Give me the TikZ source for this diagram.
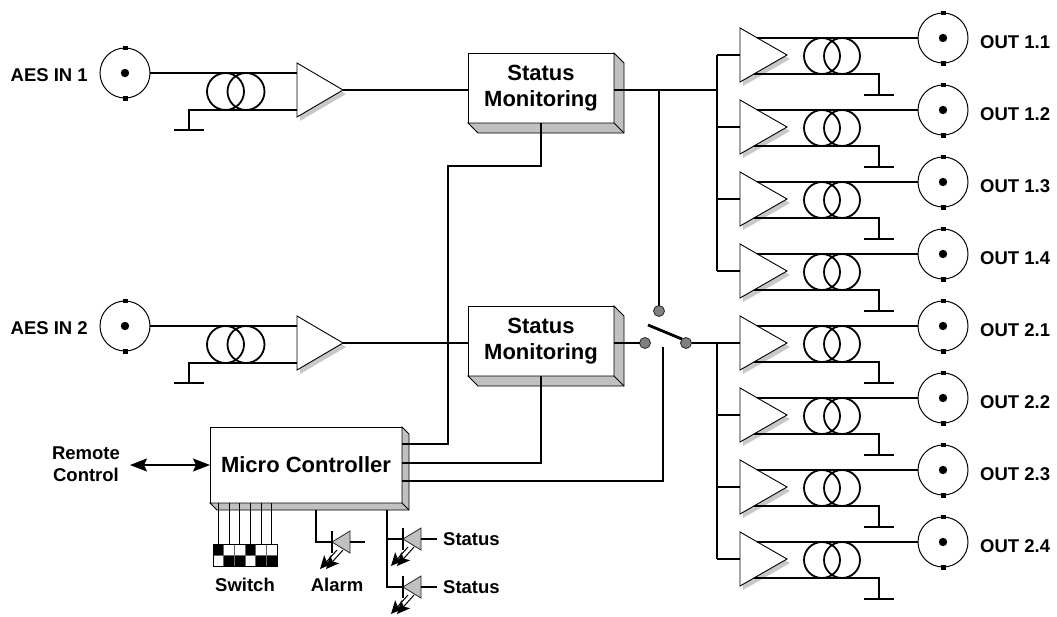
\documentclass[tikz,border=0pt]{standalone}
\usepackage{fontspec}
\setmainfont{Liberation Sans}
\usetikzlibrary{arrows.meta,calc}
\definecolor{shd}{HTML}{C0C0C0}
\definecolor{ashd}{HTML}{C8C8C8}
\definecolor{ballc}{HTML}{808080}
\newcommand{\mybnc}[3]{%
  \node[circle,draw,line width=1pt,minimum size=50pt,inner sep=0pt,outer sep=0pt] (#1) at (#2,#3) {};
  \fill (#2,#3) circle[radius=4.2pt];
  \fill (#2-2.5,#3-27.5) rectangle (#2+2.5,#3-23);
  \fill (#2-2.5,#3+23) rectangle (#2+2.5,#3+27.5);}
\newcommand{\myled}[3]{%
  \filldraw[fill=shd,draw=black!85,line width=0.8pt] (#2,#3) -- (#2+18,#3-11) -- (#2+18,#3+11) -- cycle;
  \draw[line width=1.2pt] (#2,#3-11) -- (#2,#3+11);
  \coordinate (#1-k) at (#2,#3);
  \coordinate (#1-a) at (#2+18,#3);
  \draw[line width=1pt,-{Stealth[length=13pt,width=12pt,inset=3pt]}] (#2+5,#3+8) -- (#2-12,#3+27);
  \draw[line width=1pt,-{Stealth[length=13pt,width=12pt,inset=3pt]}] (#2+11,#3+8) -- (#2-6,#3+27);}
\begin{document}
\begin{tikzpicture}[x=1pt,y=-1pt,
  wire/.style={line width=1.8pt},
  dipw/.style={line width=1pt},
  lbl/.style={font=\fontsize{18.5}{22}\selectfont\bfseries,inner sep=0pt,align=center},
  smbox/.style={font=\fontsize{22}{26}\selectfont\bfseries,align=center,draw,fill=white,line width=1pt,inner sep=0pt,outer sep=0pt,minimum width=146pt,minimum height=70pt},
  mcbox/.style={font=\fontsize{22}{26}\selectfont\bfseries,draw,fill=white,line width=1pt,inner sep=0pt,outer sep=0pt,minimum width=192pt,minimum height=76pt},
  ampshape/.style={draw,fill=white,line width=0.9pt},
  ballst/.style={circle,fill=ballc,draw=black!85,line width=0.8pt,minimum size=11pt,inner sep=0pt,outer sep=0pt}]
\useasboundingbox (0,0) rectangle (1057,616);

% ---------------- inputs ----------------
\foreach \i/\dy in {1/0,2/253}{
  \mybnc{in\i}{125}{73+\dy}
  \node[lbl,anchor=east] (lin\i) at (88,75.5+\dy) {AES IN \i};
  \draw[wire] (in\i.east) -- (297,73+\dy);
  \draw[wire] (189,130+\dy) -- (189,110+\dy) -- (297,110+\dy);
  \draw[wire] (174,130+\dy) -- (204,130+\dy);
  \draw[wire] (225.5,91.5+\dy) circle[radius=18.5pt];
  \draw[wire] (246,91.5+\dy) circle[radius=18.5pt];
  \fill[ashd] (300,67+\dy) -- (300,121+\dy) -- (346,94+\dy) -- cycle;
  \draw[ampshape] (297,63+\dy) -- (297,117+\dy) -- (343,90+\dy) coordinate (ia\i) -- cycle;
  \node[smbox] (sm\i) at (541,88+\dy) {Status\\Monitoring};
  \filldraw[fill=shd,line width=0.8pt] (sm\i.north east) -- ++(10,10) -- ++(0,70) -- ++(-146,0) -- (sm\i.south west) -- (sm\i.south east) -- cycle;
  \draw[line width=0.8pt] (sm\i.south east) -- ++(10,10);
  \draw[wire] (ia\i) -- (ia\i -| sm\i.west);
}

% ---------------- outputs ----------------
\coordinate (bx) at (717,0);
\foreach \k/\lab in {0/1.1,1/1.2,2/1.3,3/1.4,4/2.1,5/2.2,6/2.3,7/2.4}{
  \pgfmathsetmacro\c{38+72*\k}
  \mybnc{out\k}{943}{\c}
  \node[lbl,anchor=west] (ol\k) at (980,\c+4) {OUT \lab};
  \fill[ashd] (743,\c-6) -- (743,\c+48) -- (790,\c+21) -- cycle;
  \draw[ampshape] (740,\c-10) -- (740,\c+44) -- (787,\c+17) -- cycle;
  \coordinate (oa\k) at (740,\c+17);
  \draw[wire] (757.4,\c) -- (out\k.west);
  \draw[wire] (753.9,\c+36) -- (879,\c+36) -- (879,\c+57);
  \draw[wire] (864,\c+57) -- (894,\c+57);
  \draw[wire] (822,\c+18) circle[radius=18pt];
  \draw[wire] (842,\c+18) circle[radius=18pt];
  \draw[wire] (oa\k -| bx) -- (oa\k);
}
\draw[wire] (oa0 -| bx) -- (oa3 -| bx);
\draw[wire] (oa4 -| bx) -- (oa7 -| bx);
\draw[wire] (ia1 -| sm1.east) -- (ia1 -| bx);

% ---------------- switch ----------------
\node[ballst] (bT) at (659,311) {};
\node[ballst] (bL) at (645,343) {};
\node[ballst] (bR) at (686,343) {};
\draw[wire] (ia1 -| bT) -- (bT.north);
\draw[wire] (ia2 -| sm2.east) -- (bL.west);
\draw[wire] (bR.east) -- (oa4 -| bx);
\draw[line width=2.8pt] (648,325) -- (bR.north west);
\coordinate (swc) at (663,347);

% ---------------- micro controller ----------------
\node[mcbox] (mc) at (306,465) {Micro Controller};
\filldraw[fill=shd,line width=0.8pt] (mc.north east) -- ++(7,7) -- ++(0,76) -- ++(-192,0) -- (mc.south west) -- (mc.south east) -- cycle;
\draw[line width=0.8pt] (mc.south east) -- ++(7,7);
\draw[wire] ($(mc.north east)+(0,17)$) -- (448,444) -- (448,166) -| (sm1.south);
\draw[wire] ($(mc.north east)+(0,36)$) -| (sm2.south);
\draw[wire] ($(mc.north east)+(0,54)$) -| (swc);

% remote control
\node[lbl] (rc) at (86,464) {Remote\\Control};
\coordinate (rca) at (130,465);
\draw[wire,{Stealth[length=17pt,width=13pt,inset=3pt]}-{Stealth[length=17pt,width=13pt,inset=3pt]}] (rca) -- (mc.west);

% DIP switch
\node[draw,line width=0.8pt,fill=white,minimum width=64pt,minimum height=22pt,inner sep=0pt,outer sep=0pt] (dip) at (245,555) {};
\fill (213,544) rectangle ++(10.667,11);
\fill (245,544) rectangle ++(10.667,11);
\fill (223.667,555) rectangle ++(21.333,11);
\fill (255.667,555) rectangle ++(21.333,11);
\foreach \j in {1,...,5}{\draw[black!60,line width=0.5pt] (213+\j*10.667,544) -- ++(0,22);}
\draw[black!60,line width=0.5pt] (213,555) -- (277,555);
\draw[line width=0.8pt] (dip.north west) rectangle (dip.south east);
\foreach \j in {0,...,5}{\draw[dipw] (218.33+\j*10.667,503) -- ++(0,41);}
\node[lbl] (swl) at (245,585) {Switch};

% LEDs
\myled{alarm}{332}{542}
\draw[line width=1.2pt] (316,510) |- (alarm-k);
\draw[line width=1.2pt] (alarm-a) -- ++(15,0);
\node[lbl] (al) at (337,585) {Alarm};
\myled{st1}{403}{539}
\myled{st2}{403}{587}
\draw[line width=1.2pt] (387,510) |- (st2-k);
\draw[line width=1.2pt] (387,539) -- (st1-k);
\draw[line width=1.2pt] (st1-a) -- ++(16,0);
\draw[line width=1.2pt] (st2-a) -- ++(16,0);
\node[lbl,anchor=west] (s1) at (443,539) {Status};
\node[lbl,anchor=west] (s2) at (443,587) {Status};
\end{tikzpicture}
\end{document}
